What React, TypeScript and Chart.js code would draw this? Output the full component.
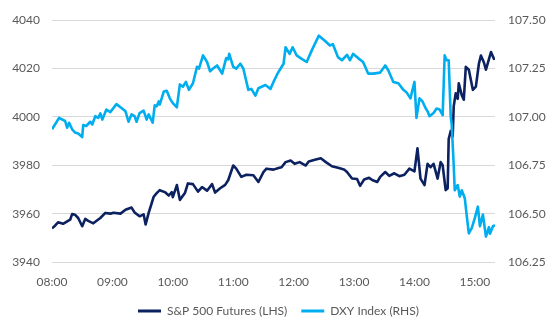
import React, { useEffect, useRef } from "react";
import { Chart, registerables } from "chart.js";

Chart.register(...registerables);

// minutes after 08:00
const spxMinutes = [0, 3, 6, 11, 18, 20, 23, 26, 30, 33, 36, 41, 48, 53, 58, 61, 68, 73, 79, 82, 87, 91, 93, 96, 99, 101, 104, 107, 112, 116, 119, 120, 124, 127, 132, 135, 140, 145, 149, 154, 159, 162, 167, 172, 175, 180, 183, 188, 193, 200, 205, 210, 213, 220, 225, 228, 232, 237, 241, 246, 252, 255, 262, 267, 272, 278, 285, 290, 293, 298, 303, 306, 310, 315, 318, 323, 326, 331, 335, 340, 345, 350, 355, 360, 363, 366, 370, 373, 376, 379, 383, 386, 388, 391, 393, 394, 396, 398, 399, 401, 403, 404, 407, 409, 411, 414, 418, 421, 424, 426, 429, 431, 434, 436, 439, 440];
const spxValues = [3953.9, 3955.0, 3956.4, 3955.8, 3957.5, 3959.8, 3959.5, 3958.2, 3954.8, 3957.8, 3957.0, 3956.0, 3958.2, 3960.3, 3960.0, 3960.4, 3960.0, 3961.6, 3962.5, 3960.5, 3958.9, 3959.7, 3955.5, 3960.3, 3964.3, 3967.0, 3968.5, 3969.7, 3968.9, 3967.5, 3968.9, 3966.8, 3971.8, 3965.7, 3968.5, 3972.5, 3972.2, 3969.1, 3971.0, 3969.5, 3972.2, 3968.7, 3970.5, 3971.9, 3973.8, 3979.9, 3978.6, 3975.2, 3976.1, 3975.9, 3973.1, 3977.2, 3978.6, 3978.2, 3978.9, 3979.2, 3981.3, 3982.0, 3980.6, 3981.3, 3979.9, 3981.6, 3982.4, 3982.9, 3981.3, 3979.6, 3978.9, 3978.3, 3977.2, 3974.5, 3974.3, 3971.5, 3974.1, 3974.8, 3973.9, 3973.1, 3975.2, 3977.2, 3975.6, 3976.7, 3975.5, 3976.1, 3978.6, 3977.5, 3987.0, 3974.5, 3971.8, 3980.6, 3979.2, 3980.6, 3974.5, 3981.3, 3980.0, 3969.7, 3970.5, 3990.8, 3994.2, 3992.0, 4004.4, 4009.8, 4007.5, 4013.9, 4009.0, 4007.1, 4020.7, 4019.5, 4011.2, 4012.5, 4022.0, 4025.4, 4022.5, 4019.5, 4023.9, 4026.8, 4024.0, 4024.5];

const dxyMinutes = [0, 3, 7, 13, 15, 17, 20, 23, 26, 30, 31, 34, 38, 40, 43, 46, 48, 50, 54, 58, 64, 69, 73, 76, 79, 82, 84, 87, 91, 94, 96, 100, 102, 104, 106, 107, 111, 114, 117, 120, 124, 127, 130, 133, 136, 140, 144, 146, 150, 154, 157, 160, 164, 169, 173, 175, 176, 180, 183, 187, 190, 195, 198, 202, 205, 212, 217, 220, 223, 224, 226, 230, 232, 236, 239, 243, 248, 253, 258, 265, 271, 276, 279, 284, 288, 293, 296, 299, 304, 309, 314, 319, 326, 331, 334, 339, 344, 349, 352, 356, 360, 362, 365, 368, 371, 373, 375, 379, 382, 385, 388, 390, 392, 394, 396, 397, 399, 400, 403, 405, 407, 410, 412, 414, 417, 420, 423, 425, 428, 431, 434, 435, 438, 440];
const dxyValues = [106.936, 106.961, 106.995, 106.979, 106.944, 106.970, 106.936, 106.919, 106.914, 106.896, 106.958, 106.953, 106.975, 106.961, 107.004, 106.995, 107.018, 106.986, 107.038, 107.025, 107.066, 107.046, 107.029, 106.975, 107.013, 107.004, 106.975, 107.020, 107.033, 106.986, 107.013, 106.970, 107.060, 107.055, 107.080, 107.064, 107.131, 107.135, 107.096, 107.071, 107.050, 107.168, 107.156, 107.181, 107.140, 107.174, 107.259, 107.250, 107.318, 107.284, 107.236, 107.250, 107.266, 107.224, 107.304, 107.298, 107.326, 107.259, 107.250, 107.275, 107.250, 107.140, 107.145, 107.110, 107.148, 107.165, 107.145, 107.181, 107.213, 107.224, 107.241, 107.275, 107.360, 107.326, 107.360, 107.318, 107.300, 107.284, 107.344, 107.420, 107.394, 107.369, 107.376, 107.309, 107.293, 107.321, 107.293, 107.326, 107.304, 107.284, 107.224, 107.224, 107.229, 107.266, 107.241, 107.181, 107.174, 107.140, 107.128, 107.096, 107.181, 106.995, 107.096, 107.080, 107.046, 107.029, 107.004, 107.020, 107.043, 107.038, 107.009, 107.318, 107.293, 107.293, 107.004, 106.961, 106.750, 106.621, 106.648, 106.588, 106.621, 106.580, 106.486, 106.398, 106.426, 106.478, 106.536, 106.435, 106.495, 106.381, 106.430, 106.396, 106.435, 106.440];

const hourLabels = ["08:00", "09:00", "10:00", "11:00", "12:00", "13:00", "14:00", "15:00"];
const seriesNames = ["S&P 500 Futures (LHS)", "DXY Index (RHS)"];
const seriesColors = ["#0c2160", "#00aeef"];

const FONT = "Lato, 'Open Sans', sans-serif";
const TEXT = "#595959";

export default function App() {
  const ref = useRef<HTMLCanvasElement | null>(null);
  useEffect(() => {
    if (!ref.current) return;
    const spx = spxMinutes.map((m, i) => ({ x: m, y: spxValues[i] }));
    const dxy = dxyMinutes.map((m, i) => ({ x: m, y: dxyValues[i] }));
    const chart = new Chart(ref.current, {
      type: "line",
      data: {
        datasets: [
          {
            label: seriesNames[0],
            data: spx,
            borderColor: seriesColors[0],
            backgroundColor: seriesColors[0],
            borderWidth: 2.6,
            pointRadius: 0,
            tension: 0,
            yAxisID: "y",
            order: 1,
            borderJoinStyle: "round",
          },
          {
            label: seriesNames[1],
            data: dxy,
            borderColor: seriesColors[1],
            backgroundColor: seriesColors[1],
            borderWidth: 2.6,
            pointRadius: 0,
            tension: 0,
            yAxisID: "y1",
            order: 0,
            borderJoinStyle: "round",
          },
        ],
      },
      options: {
        responsive: false,
        animation: false,
        layout: { padding: { top: 15, left: 0, right: 0, bottom: 8 } },
        plugins: {
          tooltip: { enabled: false },
          legend: {
            position: "bottom",
            labels: {
              color: TEXT,
              font: { family: FONT, size: 12 },
              boxWidth: 23,
              boxHeight: 3,
              padding: 14,
              generateLabels: () =>
                seriesNames.map((n, i) => ({
                  text: n,
                  fillStyle: seriesColors[i],
                  strokeStyle: seriesColors[i],
                  lineWidth: 0,
                  fontColor: TEXT,
                  datasetIndex: i,
                  hidden: false,
                })),
            },
          },
        },
        scales: {
          x: {
            type: "linear",
            min: 0,
            max: 440,
            border: { display: false },
            grid: { display: false },
            afterBuildTicks: (s: any) => {
              s.ticks = hourLabels.map((_, i) => ({ value: i * 60 }));
            },
            ticks: {
              color: TEXT,
              font: { family: FONT, size: 12 },
              padding: 5,
              maxRotation: 0,
              autoSkip: false,
              callback: (v: any) => hourLabels[Math.round(Number(v) / 60)] ?? "",
            },
            afterFit: (s: any) => {
              s.height = 29;
            },
          },
          y: {
            position: "left",
            min: 3940,
            max: 4040,
            border: { display: false },
            grid: { color: "#d9d9d9", lineWidth: 1, drawTicks: false },
            ticks: {
              stepSize: 20,
              color: TEXT,
              font: { family: FONT, size: 12 },
              padding: 12,
              callback: (v: any) => String(v),
            },
            afterFit: (s: any) => {
              s.width = 52;
            },
          },
          y1: {
            position: "right",
            min: 106.25,
            max: 107.5,
            border: { display: false },
            grid: { display: false, drawTicks: false },
            ticks: {
              stepSize: 0.25,
              color: TEXT,
              font: { family: FONT, size: 12 },
              padding: 13,
              callback: (v: any) => Number(v).toFixed(2),
            },
            afterFit: (s: any) => {
              s.width = 62;
            },
          },
        },
      },
    });
    return () => chart.destroy();
  }, []);
  return (
    <canvas
      ref={ref}
      width={557}
      height={335}
      style={{ position: "absolute", left: 0, top: 0, display: "block", background: "#fff" }}
    />
  );
}
